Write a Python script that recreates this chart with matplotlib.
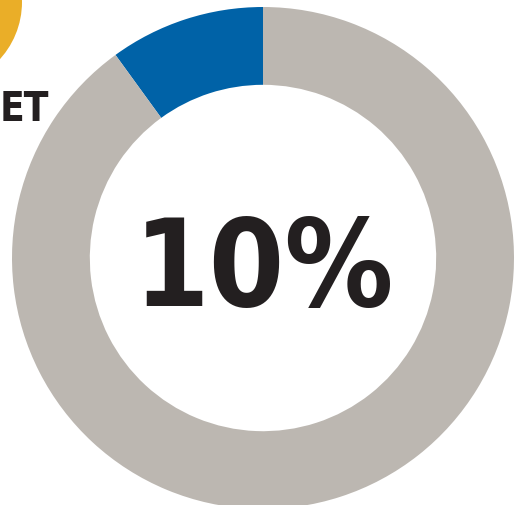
import numpy as np
import matplotlib.pyplot as plt

# donut: share of the segment vs the rest
labels = ['Share', 'Rest']
values = [10, 90]
colors = ['#0062A7', '#BCB7B1']
center_label = '10%'
side_label = 'ET'

fig = plt.figure(figsize=(5.17, 5.06), dpi=100)
ax = fig.add_axes([0, 0, 1, 1])

# donut centred at (263, 259) px from top-left, radius 251 px
ax.pie(values, colors=colors, startangle=90, counterclock=True,
       center=(263, 506 - 259), radius=251,
       wedgeprops=dict(width=251 * 0.31, linewidth=0))

# yellow circle peeking in the corner
ax.add_patch(plt.Circle((-63, 506 - 3), 85, color='#EAAE28', lw=0))

ax.text(264, 506 - 306, center_label, ha='center', va='baseline',
        fontsize=87, fontweight='bold', fontstretch='condensed',
        family=['DejaVu Sans'], color='#231F20')
ax.text(0, 506 - 121, side_label, ha='left', va='baseline',
        fontsize=29, fontweight='bold', fontstretch='condensed',
        family=['DejaVu Sans'], color='#231F20')

ax.set_xlim(0, 517)
ax.set_ylim(0, 506)
ax.set_aspect('auto')
ax.axis('off')

fig.savefig('out.png', dpi=100)
